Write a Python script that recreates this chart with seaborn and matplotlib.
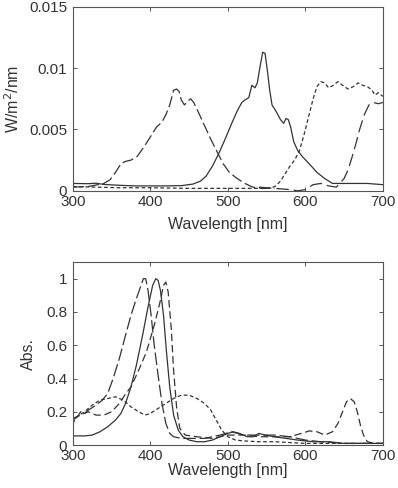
import numpy as np
import pandas as pd
import seaborn as sns
import matplotlib.pyplot as plt

# ---- top panel: LED emission spectra (W/m^2/nm) ----
green_wl = [300, 320, 330, 340, 360, 380, 400, 420, 440, 455, 465, 472, 480, 488, 495, 505, 512, 518,
            522, 527, 531, 535, 538, 542, 545, 548, 551, 554, 557, 562, 568, 572, 575, 578, 581, 585,
            590, 596, 605, 615, 625, 635, 645, 660, 680, 700]
green_val = [0.00060, 0.00058, 0.00062, 0.00052, 0.00045, 0.00040, 0.00040, 0.00040, 0.00042, 0.00055,
             0.0008, 0.0012, 0.0020, 0.0030, 0.0040, 0.0055, 0.0065, 0.0072, 0.0074, 0.0076, 0.0086,
             0.0084, 0.0088, 0.0103, 0.0113, 0.0112, 0.0098, 0.0082, 0.0070, 0.0065, 0.0058, 0.0055,
             0.0059, 0.0058, 0.0052, 0.0040, 0.0033, 0.0028, 0.0022, 0.0015, 0.0010, 0.0006, 0.0006,
             0.0006, 0.0006, 0.0005]

blue_wl = [300, 320, 340, 348, 355, 362, 368, 375, 383, 392, 400, 408, 415, 420, 425, 430, 434, 437,
           440, 444, 448, 452, 456, 462, 470, 478, 486, 494, 502, 512, 522, 532, 545, 560]
blue_val = [0.00030, 0.00035, 0.00060, 0.0009, 0.0015, 0.0022, 0.0024, 0.0025, 0.0028, 0.0036, 0.0044,
            0.0052, 0.0056, 0.0062, 0.0070, 0.0082, 0.0083, 0.0081, 0.0074, 0.0070, 0.0073, 0.0075,
            0.0072, 0.0064, 0.0053, 0.0042, 0.0032, 0.0022, 0.0015, 0.0010, 0.0006, 0.0003, 0.0002,
            0.0002]

red_wl = [300, 330, 360, 400, 450, 500, 540, 555, 562, 568, 574, 580, 586, 592, 598, 604, 610, 615,
          620, 625, 630, 636, 642, 648, 655, 662, 668, 674, 680, 686, 690, 694, 700]
red_val = [0.00035, 0.0003, 0.00025, 0.00025, 0.0002, 0.0002, 0.0002, 0.0002, 0.0004, 0.0008, 0.0014,
           0.0020, 0.0025, 0.0032, 0.0045, 0.0060, 0.0075, 0.0085, 0.0089, 0.0088, 0.0084, 0.0086,
           0.0089, 0.0086, 0.0083, 0.0085, 0.0088, 0.0086, 0.0085, 0.0082, 0.0078, 0.0080, 0.0077]

farred_wl = [540, 560, 580, 590, 600, 610, 620, 630, 640, 650, 655, 660, 665, 670, 676, 682, 688, 694, 700]
farred_val = [0.0003, 0.0002, 0.0001, 0.0000, 0.0001, 0.0005, 0.0006, 0.0004, 0.0003, 0.0010, 0.0017,
              0.0027, 0.0038, 0.0050, 0.0062, 0.0070, 0.0072, 0.0071, 0.0072]

# ---- bottom panel: absorbance spectra ----
abs1_wl = [300, 315, 325, 335, 345, 355, 362, 368, 375, 382, 390, 397, 403, 407, 410, 413, 417, 421,
           425, 430, 436, 442, 450, 460, 470, 480, 490, 500, 507, 515, 525, 533, 540, 548, 560, 575,
           590, 610, 630, 650, 680, 700]
abs1_val = [0.055, 0.055, 0.06, 0.08, 0.11, 0.15, 0.19, 0.25, 0.35, 0.48, 0.66, 0.83, 0.96, 1.0, 0.99,
            0.93, 0.78, 0.55, 0.35, 0.18, 0.09, 0.05, 0.03, 0.02, 0.02, 0.03, 0.05, 0.07, 0.08, 0.07,
            0.05, 0.05, 0.07, 0.06, 0.05, 0.04, 0.03, 0.02, 0.02, 0.01, 0.01, 0.01]

abs2_wl = [300, 306, 310, 315, 320, 330, 338, 345, 352, 360, 368, 375, 382, 388, 391, 394, 397, 401,
           405, 410, 415, 420, 425, 430, 440, 455, 470, 490, 505, 520, 540, 560, 580, 600, 620, 650, 700]
abs2_val = [0.15, 0.17, 0.2, 0.19, 0.21, 0.24, 0.27, 0.31, 0.4, 0.52, 0.66, 0.78, 0.88, 0.96, 1.0, 1.0,
            0.93, 0.78, 0.6, 0.42, 0.25, 0.13, 0.07, 0.05, 0.04, 0.04, 0.04, 0.06, 0.08, 0.06, 0.06,
            0.06, 0.05, 0.03, 0.02, 0.01, 0.01]

abs3_wl = [300, 310, 320, 330, 340, 350, 360, 367, 375, 385, 395, 405, 412, 417, 420, 423, 427, 430,
           434, 438, 445, 460, 480, 500, 520, 540, 560, 580, 595, 605, 615, 625, 635, 642, 648, 653,
           658, 663, 667, 671, 675, 680, 690, 700]
abs3_val = [0.16, 0.18, 0.2, 0.18, 0.18, 0.2, 0.25, 0.3, 0.35, 0.45, 0.56, 0.72, 0.85, 0.96, 0.98, 0.92,
            0.7, 0.45, 0.22, 0.1, 0.06, 0.05, 0.04, 0.06, 0.06, 0.05, 0.05, 0.05, 0.07, 0.085, 0.08,
            0.06, 0.08, 0.13, 0.2, 0.26, 0.28, 0.26, 0.2, 0.12, 0.06, 0.02, 0.01, 0.01]

abs4_wl = [300, 305, 315, 325, 335, 345, 355, 365, 375, 385, 393, 400, 410, 420, 430, 440, 450, 460,
           470, 478, 485, 492, 500, 510, 520, 540, 560, 600, 650, 700]
abs4_val = [0.13, 0.17, 0.2, 0.24, 0.27, 0.28, 0.29, 0.27, 0.23, 0.2, 0.18, 0.19, 0.22, 0.25, 0.28, 0.3,
            0.3, 0.28, 0.25, 0.21, 0.15, 0.09, 0.05, 0.03, 0.025, 0.02, 0.02, 0.01, 0.01, 0.01]

sns.set_style('ticks')
plt.rcParams['font.family'] = ['Liberation Sans', 'DejaVu Sans']
plt.rcParams['font.size'] = 11

ink = '#333333'
lw = 0.9

fig = plt.figure(figsize=(3.98, 4.88), dpi=100)
ax1 = fig.add_axes([0.183, 0.609, 0.779, 0.377])
ax2 = fig.add_axes([0.183, 0.088, 0.779, 0.375])

top = [
    (green_wl, green_val, '-'),
    (blue_wl, blue_val, (0, (9, 3))),
    (red_wl, red_val, (0, (3, 2))),
    (farred_wl, farred_val, (0, (10, 4))),
]
for wl, val, ls in top:
    df = pd.DataFrame({'wl': wl, 'val': val})
    sns.lineplot(data=df, x='wl', y='val', ax=ax1, color=ink, linewidth=lw, linestyle=ls)

bottom = [
    (abs1_wl, abs1_val, '-'),
    (abs2_wl, abs2_val, (0, (10, 3))),
    (abs3_wl, abs3_val, (0, (6, 3))),
    (abs4_wl, abs4_val, (0, (3, 2))),
]
for wl, val, ls in bottom:
    df = pd.DataFrame({'wl': wl, 'val': val})
    sns.lineplot(data=df, x='wl', y='val', ax=ax2, color=ink, linewidth=lw, linestyle=ls)

ax1.set_xlim(300, 700)
ax1.set_ylim(0, 0.015)
ax1.set_yticks([0, 0.005, 0.01, 0.015])
ax1.set_yticklabels(['0', '0.005', '0.01', '0.015'])
ax1.set_ylabel('W/m$^2$/nm', labelpad=5, fontsize=11.5)
ax1.set_xlabel('Wavelength [nm]', labelpad=6, fontsize=11.5)

ax2.set_xlim(300, 700)
ax2.set_ylim(0, 1.1)
ax2.set_yticks([0, 0.2, 0.4, 0.6, 0.8, 1])
ax2.set_yticklabels(['0', '0.2', '0.4', '0.6', '0.8', '1'])
ax2.set_ylabel('Abs.', labelpad=7, fontsize=11.5)
ax2.set_xlabel('Wavelength [nm]', labelpad=0, fontsize=11.5)

for ax in (ax1, ax2):
    ax.set_xticks([300, 400, 500, 600, 700])
    ax.tick_params(direction='in', top=True, right=True, length=3, width=0.7,
                   colors='#555555', labelcolor=ink, labelsize=11)
    ax.tick_params(axis='y', pad=4)
    ax.tick_params(axis='x', pad=3)
    for s in ax.spines.values():
        s.set_color('#555555')
        s.set_linewidth(0.8)
    ax.xaxis.label.set_color(ink)
    ax.yaxis.label.set_color(ink)

fig.savefig('out.png', dpi=100, facecolor='white')
plt.close(fig)
